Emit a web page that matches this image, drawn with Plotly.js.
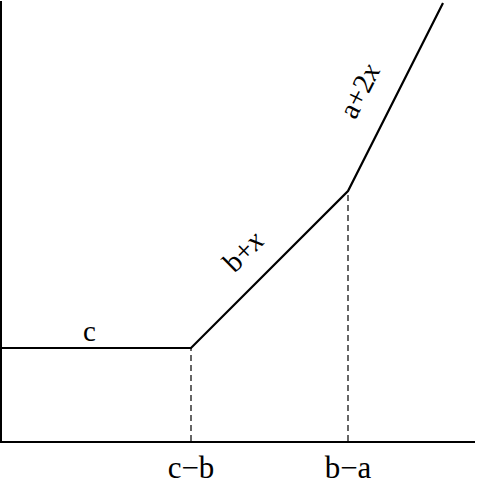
<!DOCTYPE html>
<html>
<head>
<meta charset="utf-8">
<script src="https://cdn.plot.ly/plotly-3.0.1.min.js"></script>
<style>
  html, body { margin: 0; padding: 0; background: #fff; }
  #chart { width: 477px; height: 479px; }
</style>
</head>
<body>
<div id="chart"></div>
<script>
// corners of the curve max(c, b+x, a+2x)
const cornerX = [0, 1.89, 3.46, 4.41];
const cornerY = [0.93, 0.93, 2.50, 4.38];

// dashed drops from the two kinks to the axis
const dropX = [1.89, 3.46];
const dropTop = [0.93, 2.50];

const tickPos = [1.89, 3.46];
const tickText = ['c\u2212b', 'b\u2212a'];

// segment labels
const labelText = ['c', 'b+<i>x</i>', 'a+2<i>x</i>'];
const labelX = [0.87, 2.41, 3.57];
const labelY = [1.10, 1.90, 3.50];
const labelAngle = [0, -45, -63];

const serif = 'Liberation Serif, Times New Roman, serif';

const data = [];
for (let i = 0; i < dropX.length; i++) {
  data.push({
    x: [dropX[i], dropX[i]],
    y: [0, dropTop[i]],
    mode: 'lines',
    line: { color: '#000', width: 1.2, dash: '6px,4px' },
    hoverinfo: 'skip'
  });
}
data.push({
  x: cornerX,
  y: cornerY,
  mode: 'lines',
  line: { color: '#000', width: 2.2 },
  hoverinfo: 'skip'
});

const annotations = labelText.map((t, i) => ({
  x: labelX[i],
  y: labelY[i],
  text: t,
  textangle: labelAngle[i],
  showarrow: false,
  font: { family: serif, size: 29, color: '#000' }
}));

const layout = {
  width: 477,
  height: 479,
  margin: { l: 2, r: 2, t: 1, b: 38 },
  paper_bgcolor: '#fff',
  plot_bgcolor: '#fff',
  showlegend: false,
  xaxis: {
    range: [0, 4.73],
    showgrid: false,
    zeroline: false,
    showline: true,
    linecolor: '#000',
    linewidth: 2,
    ticks: '',
    tickvals: tickPos,
    ticktext: tickText,
    tickfont: { family: serif, size: 31, color: '#000' },
    ticklabelstandoff: -2,
    fixedrange: true
  },
  yaxis: {
    range: [0, 4.40],
    showgrid: false,
    zeroline: false,
    showline: true,
    linecolor: '#000',
    linewidth: 2,
    showticklabels: false,
    ticks: '',
    fixedrange: true
  },
  annotations: annotations
};

Plotly.newPlot('chart', data, layout, { staticPlot: true });
</script>
</body>
</html>
